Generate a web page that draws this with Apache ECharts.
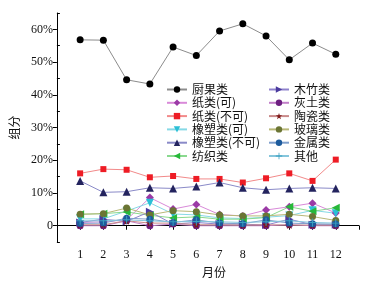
<!DOCTYPE html>
<html>
<head>
<meta charset="utf-8">
<script src="https://cdn.jsdelivr.net/npm/echarts@6/dist/echarts.min.js"></script>
<style>
html, body { margin: 0; padding: 0; background: #fff; }
#main { width: 369px; height: 283px; }
</style>
</head>
<body>
<div id="main"></div>
<script>
// 月份
var months = [1, 2, 3, 4, 5, 6, 7, 8, 9, 10, 11, 12];
// 各组分 (%)
var chuguo    = [56.8, 56.7, 44.6, 43.3, 54.6, 52.0, 59.5, 61.7, 58.0, 50.7, 55.8, 52.4];
var zhiKe     = [1.0, 1.2, 1.8, 8.6, 5.1, 6.5, 3.4, 3.0, 4.8, 5.8, 6.9, 3.9];
var zhiBuke   = [16.0, 17.3, 17.1, 14.8, 15.2, 14.3, 14.3, 13.2, 14.5, 16.0, 13.7, 20.2];
var xiangKe   = [2.1, 2.1, 4.5, 7.0, 3.6, 3.3, 2.4, 2.2, 2.6, 3.1, 4.7, 3.8];
var xiangBuke = [13.7, 10.2, 10.4, 11.6, 11.4, 12.0, 13.2, 11.6, 11.0, 11.4, 11.6, 11.4];
var fangzhi   = [3.5, 3.7, 4.2, 3.2, 2.4, 2.7, 2.0, 2.0, 2.5, 5.8, 4.4, 5.5];
var muzhu     = [1.0, 2.0, 1.3, 4.3, 0.5, 1.0, 0.5, 0.5, 0.2, 2.0, 0.3, 0.3];
var huitu     = [0.0, 0.0, 1.5, 0.0, 0.5, 0.0, 0.0, 0.0, 0.0, 0.3, 0.0, 0.0];
var taoci     = [0.3, 0.3, 1.5, 0.8, 0.8, 0.3, 0.3, 0.2, 0.3, 0.2, 0.2, 0.2];
var boli      = [3.5, 3.7, 5.4, 3.3, 4.6, 4.3, 3.3, 3.0, 3.0, 3.5, 2.8, 1.6];
var jinshu    = [0.7, 0.8, 2.3, 2.0, 1.0, 1.8, 0.8, 0.6, 1.8, 0.8, 0.6, 0.5];
var qita      = [1.5, 1.5, 1.8, 1.5, 1.2, 1.3, 1.2, 1.0, 1.2, 1.5, 1.0, 0.8];

var yLabels = [0, 10, 20, 30, 40, 50, 60];
var yMinor = [-5, 5, 15, 25, 35, 45, 55, 65];

var starPath = 'path://M5,0L6.2,3.8L10,3.8L6.9,6.2L8.1,10L5,7.6L1.9,10L3.1,6.2L0,3.8L3.8,3.8Z';
var plusPath = 'path://M4.4,0h1.2v4.4h4.4v1.2h-4.4v4.4h-1.2v-4.4h-4.4v-1.2h4.4z';

var defs = [
	{name: '厨果类', data: chuguo, symbol: 'circle', size: 7, color: '#000000', line: '#8c8c8c'},
	{name: '纸类(可)', data: zhiKe, symbol: 'diamond', size: 8, color: '#9b3aa6', line: '#d98ad9'},
	{name: '纸类(不可)', data: zhiBuke, symbol: 'rect', size: 6, color: '#ee1c25', line: '#f28a8a'},
	{name: '橡塑类(可)', data: xiangKe, symbol: 'triangle', rotate: 180, size: 8, color: '#2bbfd6', line: '#86d9e6'},
	{name: '橡塑类(不可)', data: xiangBuke, symbol: 'triangle', size: 8, color: '#23235e', line: '#8a8ac8'},
	{name: '纺织类', data: fangzhi, symbol: 'triangle', rotate: 90, size: 8, color: '#27b83a', line: '#8ad98f'},
	{name: '木竹类', data: muzhu, symbol: 'triangle', rotate: -90, size: 8, color: '#4a3a9e', line: '#8f82cc'},
	{name: '灰土类', data: huitu, symbol: 'circle', size: 7, color: '#6d1f80', line: '#c27fc9'},
	{name: '陶瓷类', data: taoci, symbol: starPath, size: 8, color: '#7d1a1a', line: '#c98a8a'},
	{name: '玻璃类', data: boli, symbol: 'circle', size: 7, color: '#6b7534', line: '#b8b878'},
	{name: '金属类', data: jinshu, symbol: 'circle', size: 7, color: '#1d5b9c', line: '#7f9fcc'},
	{name: '其他', data: qita, symbol: plusPath, size: 8, color: '#3a9fc0', line: '#86c6dc'}
];

var series = defs.map(function(d) {
	return {
		name: d.name,
		type: 'line',
		data: months.map(function(m, i) { return [m, d.data[i]]; }),
		symbol: d.symbol,
		symbolSize: d.size,
		symbolRotate: d.rotate || 0,
		itemStyle: {color: d.color},
		lineStyle: {color: d.line, width: 1},
		emphasis: {disabled: true}
	};
});

var font = '"Liberation Serif", "Noto Sans CJK SC", serif';
var legendCommon = {
	orient: 'vertical',
	itemWidth: 20,
	itemHeight: 8,
	itemGap: 0.3,
	textStyle: {fontFamily: '"Noto Sans CJK SC", "Liberation Serif"', fontSize: 12, color: '#111', lineHeight: 13}
};

var myChart = echarts.init(document.getElementById('main'));
var option = {
	animation: false,
	backgroundColor: '#ffffff',
	grid: {left: 43, right: 10, top: 13, bottom: 35},
	legend: [
		Object.assign({left: 161, top: 78, data: defs.slice(0, 6).map(function(d) { return d.name; })}, legendCommon),
		Object.assign({left: 263, top: 78, data: defs.slice(6).map(function(d) { return d.name; })}, legendCommon)
	],
	xAxis: {
		type: 'value',
		min: 0,
		max: 13,
		interval: 1,
		name: '月份',
		nameLocation: 'middle',
		nameGap: 21,
		nameTextStyle: {fontFamily: '"Noto Sans CJK SC"', fontSize: 12, color: '#111', padding: [0, 0, 0, 12]},
		splitLine: {show: false},
		axisLine: {lineStyle: {color: '#000', width: 1}},
		axisTick: {inside: false, length: 4, lineStyle: {color: '#000'}},
		axisLabel: {
			fontFamily: font, fontSize: 12, color: '#111', margin: 7,
			formatter: function(v) { return (v >= 1 && v <= 12) ? String(v) : ''; }
		}
	},
	yAxis: [{
		type: 'value',
		min: -5,
		max: 65,
		interval: 5,
		name: '组分',
		nameLocation: 'middle',
		nameGap: 28,
		nameRotate: 90,
		nameTextStyle: {fontFamily: '"Noto Sans CJK SC"', fontSize: 12, color: '#111'},
		splitLine: {show: false},
		axisLine: {show: true, lineStyle: {color: '#000', width: 1}},
		axisTick: {inside: false, length: 4, customValues: yLabels, lineStyle: {color: '#000'}},
		axisLabel: {
			fontFamily: font, fontSize: 12, color: '#111', margin: 4,
			customValues: yLabels,
			formatter: function(v) { return v === 0 ? '0' : v + '%'; }
		}
	}, {
		type: 'value',
		position: 'left',
		min: -5,
		max: 65,
		interval: 5,
		splitLine: {show: false},
		axisLine: {show: false},
		axisTick: {inside: true, length: 3, customValues: yMinor, lineStyle: {color: '#000'}},
		axisLabel: {show: false}
	}],
	series: series
};
myChart.setOption(option);
</script>
</body>
</html>
